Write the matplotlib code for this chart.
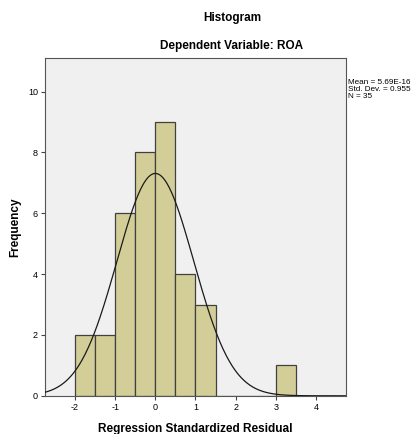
import numpy as np
import matplotlib
matplotlib.use('Agg')
import matplotlib.pyplot as plt

# histogram bins (left edges, width 0.5) and counts
bin_edges = [-2.0, -1.5, -1.0, -0.5, 0.0, 0.5, 1.0, 1.5, 2.0, 2.5, 3.0, 3.5]
counts = [2, 2, 6, 8, 9, 4, 3, 0, 0, 0, 1]
mean = 5.69e-16
std = 0.955
n = 35

plt.rcParams['font.family'] = ['Liberation Sans', 'DejaVu Sans']
plt.rcParams['axes.unicode_minus'] = False

fig = plt.figure(figsize=(4.12, 4.34), dpi=100)
ax = fig.add_axes([0.109, 0.088, 0.731, 0.778])
ax.set_facecolor('#f0f0f0')

width = bin_edges[1] - bin_edges[0]
ax.bar(bin_edges[:-1], counts, width=width, align='edge',
       color='#d3ce98', edgecolor='#404040', linewidth=0.9, zorder=2)

# normal curve scaled to counts
x = np.linspace(-2.75, 4.75, 400)
y = n * width * np.exp(-0.5 * ((x - mean) / std) ** 2) / (std * np.sqrt(2 * np.pi))
ax.plot(x, y, color='#1a1a1a', linewidth=0.9, zorder=3)

ax.set_xlim(-2.75, 4.75)
ax.set_ylim(0, 11.1)
ax.set_xticks([-2, -1, 0, 1, 2, 3, 4])
ax.set_yticks([0, 2, 4, 6, 8, 10])
ax.tick_params(labelsize=6.5, length=3, width=0.8, color='#444444', pad=2)
for s in ax.spines.values():
    s.set_color('#555555')
    s.set_linewidth(0.8)

ax.set_xlabel('Regression Standardized Residual', fontsize=8.5, fontweight='bold', labelpad=8)
ax.set_ylabel('Frequency', fontsize=8.5, fontweight='bold', labelpad=5)

fig.text(0.563, 0.958, 'Histogram', ha='center', va='center', fontsize=8.5, fontweight='bold')
fig.text(0.563, 0.894, 'Dependent Variable: ROA', ha='center', va='center', fontsize=8.5, fontweight='bold')

fig.text(0.845, 0.817, 'Mean = 5.69E-16\nStd. Dev. = 0.955\nN = 35',
         ha='left', va='top', fontsize=5.9, linespacing=1.0)

fig.savefig('out.png', dpi=100)
